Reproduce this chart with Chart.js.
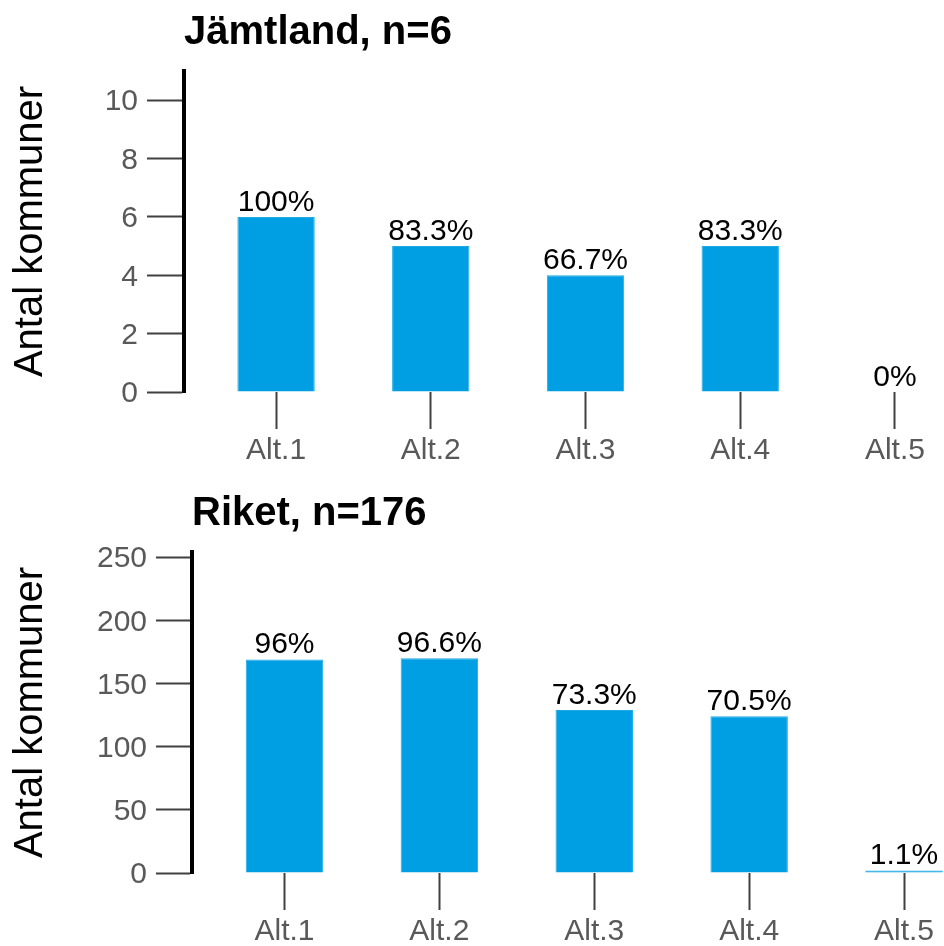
<!DOCTYPE html>
<html>
<head>
<meta charset="utf-8">
<script src="https://cdn.jsdelivr.net/npm/chart.js@4/dist/chart.umd.min.js"></script>
<style>
	html, body { margin: 0; padding: 0; background: #fff; overflow: hidden; }
	canvas { display: block; }
</style>
</head>
<body>
<canvas id="chartTop" width="944" height="480"></canvas>
<canvas id="chartBottom" width="944" height="481"></canvas>
<script>
// 데이터
var categories = ["Alt.1", "Alt.2", "Alt.3", "Alt.4", "Alt.5"];
var jamtlandValues = [6, 5, 4, 5, 0];
var riketValues = [169, 170, 129, 124, 2];
var jamtlandN = 6;
var riketN = 176;
var jamtlandTicks = [0, 2, 4, 6, 8, 10];
var riketTicks = [0, 50, 100, 150, 200, 250];
var jamtlandMax = 11;
var riketMax = 254;

var FONT = "'Liberation Sans', Arial, sans-serif";
var BLUE = "#009FE3";

// 퍼센트 텍스트 (96.0 -> 96%)
function pct(v, n) {
	return (Math.round(v / n * 1000) / 10) + "%";
}

// 막대 위에 퍼센트 표시
var barLabels = {
	id: "barLabels",
	afterDatasetsDraw: function(chart, args, options) {
		var ctx = chart.ctx;
		var meta = chart.getDatasetMeta(0);
		var data = chart.data.datasets[0].data;
		ctx.save();
		ctx.font = "30px " + FONT;
		ctx.fillStyle = "#000";
		ctx.textAlign = "center";
		ctx.textBaseline = "alphabetic";
		meta.data.forEach(function(bar, i) {
			ctx.fillText(pct(data[i].y, options.n), bar.x, bar.y - 6);
		});
		ctx.restore();
	}
};

function makeChart(id, s) {
	var ctx = document.getElementById(id).getContext("2d");
	return new Chart(ctx, {
		type: "bar",
		data: {
			datasets: [{
				data: s.values.map(function(v, i) { return { x: i + 1, y: v }; }),
				backgroundColor: BLUE,
				borderColor: "#1FAAE6",
				borderWidth: 1,
				barPercentage: 0.5,
				categoryPercentage: 1
			}]
		},
		options: {
			responsive: false,
			animation: false,
			layout: { padding: 0 },
			plugins: {
				legend: { display: false },
				tooltip: { enabled: false },
				title: {
					display: true,
					text: s.title,
					align: "start",
					fullSize: false,
					color: "#000",
					font: { family: FONT, size: 40, weight: "bold" },
					padding: { top: s.titleTop, bottom: 14 }
				},
				barLabels: { n: s.n }
			},
			scales: {
				x: {
					type: "linear",
					position: "bottom",
					offset: false,
					min: s.xMin,
					max: s.xMax,
					afterBuildTicks: function(scale) {
						scale.ticks = categories.map(function(c, i) { return { value: i + 1 }; });
					},
					afterFit: function(scale) { scale.height = 88; },
					grid: { display: true, offset: false, drawOnChartArea: false, drawTicks: true, tickLength: 37, tickWidth: 2, tickColor: "#404040" },
					border: { display: false },
					ticks: {
						autoSkip: false,
						maxRotation: 0,
						padding: 4,
						color: "#595959",
						font: { family: FONT, size: 30 },
						callback: function(value) { return categories[value - 1]; }
					}
				},
				y: {
					min: 0,
					max: s.yMax,
					afterBuildTicks: function(scale) {
						scale.ticks = s.yTicks.map(function(v) { return { value: v }; });
					},
					afterFit: function(scale) { scale.width = s.axisX; },
					grid: { display: true, drawOnChartArea: false, drawTicks: true, tickLength: s.tickLen, tickWidth: 2, tickColor: "#404040" },
					border: { display: true, color: "#000", width: 4 },
					ticks: {
						padding: s.tickPad,
						labelOffset: 2,
						color: "#595959",
						font: { family: FONT, size: 30 }
					},
					title: {
						display: true,
						text: "Antal kommuner",
						color: "#000",
						font: { family: FONT, size: 40 },
						padding: { top: 7, bottom: 0 }
					}
				}
			}
		},
		plugins: [barLabels]
	});
}

makeChart("chartTop", {
	title: "Jämtland, n=6",
	values: jamtlandValues,
	n: jamtlandN,
	yTicks: jamtlandTicks,
	yMax: jamtlandMax,
	xMin: 0.405,
	xMax: 5.317,
	axisX: 184,
	tickLen: 37,
	tickPad: 9,
	titleTop: 9
});

makeChart("chartBottom", {
	title: "Riket, n=176",
	values: riketValues,
	n: riketN,
	yTicks: riketTicks,
	yMax: riketMax,
	xMin: 0.403,
	xMax: 5.258,
	axisX: 192,
	tickLen: 36,
	tickPad: 9,
	titleTop: 10
});
</script>
</body>
</html>
